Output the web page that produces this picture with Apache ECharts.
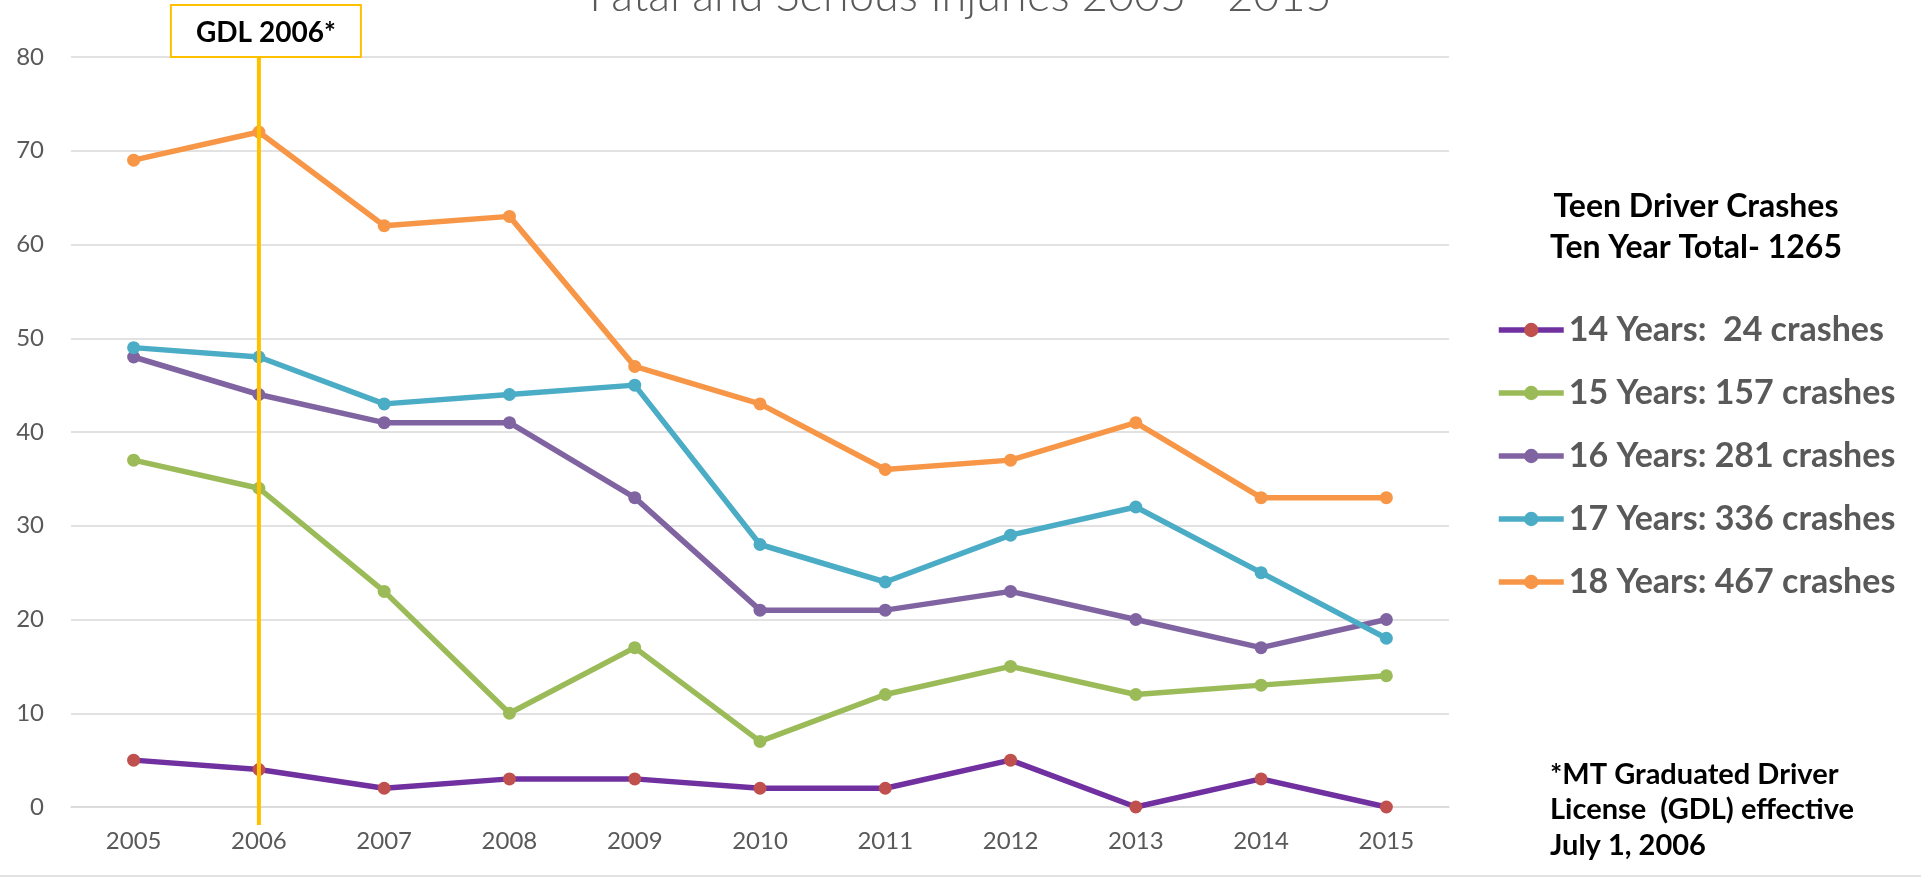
<!DOCTYPE html>
<html><head><meta charset="utf-8">
<script src="https://cdn.jsdelivr.net/npm/echarts@6/dist/echarts.min.js"></script>
<style>html,body{margin:0;padding:0;background:#fff}#c{width:1921px;height:879px}</style>
</head><body><div id="c"></div>
<script>
const years = ['2005','2006','2007','2008','2009','2010','2011','2012','2013','2014','2015'];
const age14 = [5, 4, 2, 3, 3, 2, 2, 5, 0, 3, 0];
const age15 = [37, 34, 23, 10, 17, 7, 12, 15, 12, 13, 14];
const age16 = [48, 44, 41, 41, 33, 21, 21, 23, 20, 17, 20];
const age17 = [49, 48, 43, 44, 45, 28, 24, 29, 32, 25, 18];
const age18 = [69, 72, 62, 63, 47, 43, 36, 37, 41, 33, 33];
const seriesNames = ['14 Years:  24 crashes','15 Years: 157 crashes','16 Years: 281 crashes','17 Years: 336 crashes','18 Years: 467 crashes'];
const yMin = 0, yMax = 80, yStep = 10;
const gdlYear = '2006';
const titleText = 'Fatal and Serious Injuries 2005 - 2015';
const legendTitle = 'Teen Driver Crashes\nTen Year Total- 1265';
const noteText = '*MT Graduated Driver\nLicense  (GDL) effective\nJuly 1, 2006';
const gdlLabel = 'GDL 2006*';

const FONT = 'Lato, "Open Sans", sans-serif';
const chart = echarts.init(document.getElementById('c'));
function mk(name, data, lineColor, dotColor) {
  return {
    name, type: 'line', data,
    symbol: 'circle', symbolSize: 13,
    lineStyle: { color: lineColor, width: 5.5 },
    itemStyle: { color: dotColor || lineColor },
    emphasis: { disabled: true },
    animation: false
  };
}
chart.setOption({
  animation: false,
  backgroundColor: '#fff',
  grid: { left: 71, right: 472, top: 57, bottom: 72, containLabel: false },
  xAxis: {
    type: 'category', data: years, boundaryGap: true,
    axisLine: { show: true, lineStyle: { color: '#D9D9D9', width: 1.5 } },
    axisTick: { show: false },
    axisLabel: { color: '#595959', fontSize: 24, fontFamily: FONT, margin: 22 }
  },
  yAxis: {
    type: 'value', min: yMin, max: yMax, interval: yStep,
    axisLine: { show: false }, axisTick: { show: false },
    splitLine: { lineStyle: { color: '#D9D9D9', width: 1.5 } },
    axisLabel: { color: '#595959', fontSize: 24, fontFamily: FONT, margin: 27 }
  },
  legend: {
    orient: 'vertical', left: 1491, top: 308,
    itemWidth: 65, itemHeight: 18, itemGap: 29,
    lineStyle: { width: 5.5 },
    data: seriesNames,
    textStyle: { color: '#595959', fontSize: 34, fontWeight: 'bold', fontFamily: FONT, lineHeight: 34 }
  },
  series: [
    mk(seriesNames[0], age14, '#7030A0', '#C0504D'),
    mk(seriesNames[1], age15, '#9BBB59'),
    mk(seriesNames[2], age16, '#8064A2'),
    mk(seriesNames[3], age17, '#4BACC6'),
    mk(seriesNames[4], age18, '#F79646')
  ]
});

const top80 = chart.convertToPixel({ gridIndex: 0 }, [gdlYear, yMax]);
const bot0 = chart.convertToPixel({ gridIndex: 0 }, [gdlYear, yMin]);
const gx = top80[0];
chart.setOption({
  graphic: [
    { type: 'text', left: 'center', top: -26, style: { text: titleText, fill: '#595959', font: '300 45px ' + FONT } },
    { type: 'line', shape: { x1: gx, y1: top80[1], x2: gx, y2: bot0[1] + 18 }, style: { stroke: '#FFC000', lineWidth: 4 }, z: 10 },
    { type: 'rect', shape: { x: gx - 88, y: 5, width: 190, height: top80[1] - 5 }, style: { fill: '#fff', stroke: '#FFC000', lineWidth: 2 }, z: 10 },
    { type: 'text', x: gx + 7, y: (5 + top80[1]) / 2 + 2, style: { text: gdlLabel, fill: '#000', font: 'bold 28px ' + FONT, align: 'center', verticalAlign: 'middle' }, z: 11 },
    { type: 'text', x: 1696, y: 227, style: { text: legendTitle, fill: '#000', font: 'bold 32px ' + FONT, align: 'center', verticalAlign: 'middle', lineHeight: 41 }, z: 11 },
    { type: 'text', x: 1550, y: 810, style: { text: noteText, fill: '#000', font: 'bold 29px ' + FONT, align: 'left', verticalAlign: 'middle', lineHeight: 35.5 }, z: 11 },
    { type: 'line', shape: { x1: 0, y1: 876, x2: 1921, y2: 876 }, style: { stroke: '#D9D9D9', lineWidth: 1.5 } }
  ]
});
</script></body></html>
